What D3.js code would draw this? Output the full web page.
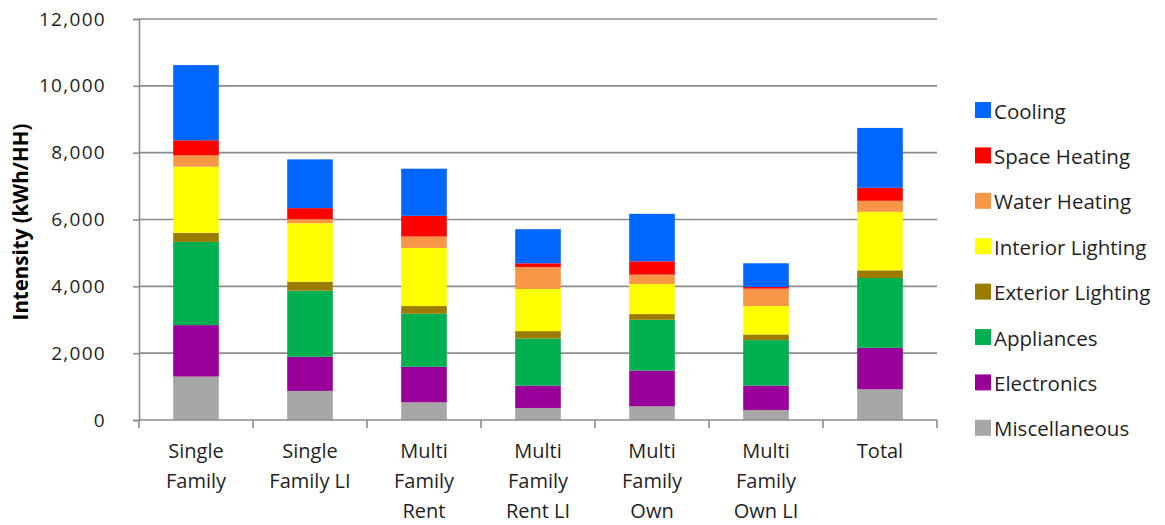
<!DOCTYPE html>
<html>
<head>
<meta charset="utf-8">
<script src="https://cdn.jsdelivr.net/npm/d3@7"></script>
<style>
  body { margin: 0; background: #fff; }
  text { font-family: "Open Sans", "Noto Sans", sans-serif; fill: #1f1f1f; }
</style>
</head>
<body>
<svg id="chart" width="1165" height="525"></svg>
<script>
"use strict";

// categories (x axis) and how their labels wrap
var categories = ["Single Family", "Single Family LI", "Multi Family Rent", "Multi Family Rent LI",
                  "Multi Family Own", "Multi Family Own LI", "Total"];
var labelLines = [["Single", "Family"], ["Single", "Family LI"], ["Multi", "Family", "Rent"],
                  ["Multi", "Family", "Rent LI"], ["Multi", "Family", "Own"],
                  ["Multi", "Family", "Own LI"], ["Total"]];

// end uses, bottom of the stack first
var seriesNames = ["Miscellaneous", "Electronics", "Appliances", "Exterior Lighting",
                   "Interior Lighting", "Water Heating", "Space Heating", "Cooling"];
var seriesColors = ["#a6a6a6", "#990099", "#00b050", "#9c7c00",
                    "#ffff00", "#f79646", "#ff0000", "#0066ff"];

// kWh per household
var miscellaneous   = [1300,  870,  530,  360,  410,  300,  920];
var electronics     = [1540, 1020, 1060,  670, 1070,  730, 1240];
var appliances      = [2490, 1980, 1590, 1410, 1520, 1360, 2090];
var exteriorLight   = [ 270,  270,  230,  220,  170,  170,  230];
var interiorLight   = [1980, 1750, 1740, 1260,  900,  850, 1750];
var waterHeating    = [ 340,  120,  340,  660,  280,  520,  330];
var spaceHeating    = [ 450,  330,  620,  110,  400,   50,  390];
var cooling         = [2250, 1460, 1410, 1020, 1420,  710, 1790];

var yTicks = [0, 2000, 4000, 6000, 8000, 10000, 12000];

var seriesValues = [miscellaneous, electronics, appliances, exteriorLight,
                    interiorLight, waterHeating, spaceHeating, cooling];

// table for d3.stack
var rows = categories.map(function(c, i) {
  var r = { category: c };
  seriesNames.forEach(function(s, j) { r[s] = seriesValues[j][i]; });
  return r;
});

var plotLeft = 139, plotRight = 937, plotTop = 19, plotBottom = 420;
var svg = d3.select("#chart");

var x = d3.scaleBand()
    .domain(categories)
    .range([plotLeft, plotRight])
    .paddingInner(0.6)
    .paddingOuter(0.3);

var y = d3.scaleLinear()
    .domain([0, 12000])
    .range([plotBottom, plotTop]);

var color = d3.scaleOrdinal().domain(seriesNames).range(seriesColors);

// gridlines
svg.append("g")
  .selectAll("line")
  .data(yTicks.slice(1))
  .enter()
  .append("line")
    .attr("x1", plotLeft)
    .attr("x2", plotRight)
    .attr("y1", function(d) { return y(d); })
    .attr("y2", function(d) { return y(d); })
    .style("stroke", "#8c8c8c")
    .attr("stroke-width", 1.6);

// stacked bars
var stacked = d3.stack().keys(seriesNames)(rows);

svg.append("g")
  .selectAll("g")
  .data(stacked)
  .enter()
  .append("g")
    .style("fill", function(d) { return color(d.key); })
  .selectAll("rect")
  .data(function(d) { return d; })
  .enter()
  .append("rect")
    .attr("x", function(d) { return x(d.data.category); })
    .attr("width", x.bandwidth())
    .attr("y", function(d) { return y(d[1]); })
    .attr("height", function(d) { return y(d[0]) - y(d[1]); });

// y axis
var yAxis = svg.append("g")
    .attr("transform", "translate(" + plotLeft + ",0)")
    .call(d3.axisLeft(y).tickValues(yTicks).tickSize(6).tickPadding(27)
      .tickFormat(d3.format(",")));
yAxis.select(".domain").attr("stroke", "#8c8c8c").attr("stroke-width", 1.6);
yAxis.selectAll(".tick line").attr("stroke", "#8c8c8c").attr("stroke-width", 1.6);
yAxis.selectAll(".tick text")
    .attr("font-size", 19)
    .attr("letter-spacing", 1.3)
    .style("font-family", "'Open Sans', sans-serif")
    .style("fill", "#1f1f1f");

// x axis: baseline and ticks at category boundaries
var step = x.step();
var bounds = d3.range(categories.length + 1).map(function(i) { return plotLeft + i * step; });
svg.append("line")
    .attr("x1", plotLeft).attr("x2", plotRight)
    .attr("y1", plotBottom).attr("y2", plotBottom)
    .style("stroke", "#8c8c8c").attr("stroke-width", 1.6);
svg.append("g")
  .selectAll("line")
  .data(bounds)
  .enter()
  .append("line")
    .attr("x1", function(d) { return d; })
    .attr("x2", function(d) { return d; })
    .attr("y1", plotBottom)
    .attr("y2", plotBottom + 8)
    .style("stroke", "#8c8c8c")
    .attr("stroke-width", 1.6);

var xLabels = svg.append("g")
  .selectAll("text")
  .data(categories)
  .enter()
  .append("text")
    .attr("text-anchor", "middle")
    .attr("font-size", 20)
    .attr("x", function(d) { return x(d) + x.bandwidth() / 2; });

xLabels.selectAll("tspan")
  .data(function(d, i) { return labelLines[i]; })
  .enter()
  .append("tspan")
    .attr("x", function() { return d3.select(this.parentNode).attr("x"); })
    .attr("y", function(d, i) { return 458 + i * 30; })
    .text(function(d) { return d; });

// axis title
svg.append("text")
    .attr("transform", "translate(28,222) rotate(-90)")
    .attr("text-anchor", "middle")
    .attr("font-size", 20.5)
    .attr("font-weight", "bold")
    .style("fill", "#000")
    .text("Intensity (kWh/HH)");

// legend, top entry is the top of the stack
var legendItems = seriesNames.slice().reverse();
var legendRectSize = 16;
var legend = svg.append("g")
  .selectAll("g")
  .data(legendItems)
  .enter()
  .append("g")
    .attr("transform", function(d, i) {
      return "translate(975," + (110 + i * 45.4) + ")";
    });

legend.append("rect")
    .attr("width", legendRectSize)
    .attr("height", legendRectSize)
    .attr("y", -legendRectSize / 2)
    .style("fill", function(d) { return color(d); });

legend.append("text")
    .attr("x", legendRectSize + 3)
    .attr("y", 8.5)
    .attr("font-size", 20.5)
    .text(function(d) { return d; });
</script>
</body>
</html>
